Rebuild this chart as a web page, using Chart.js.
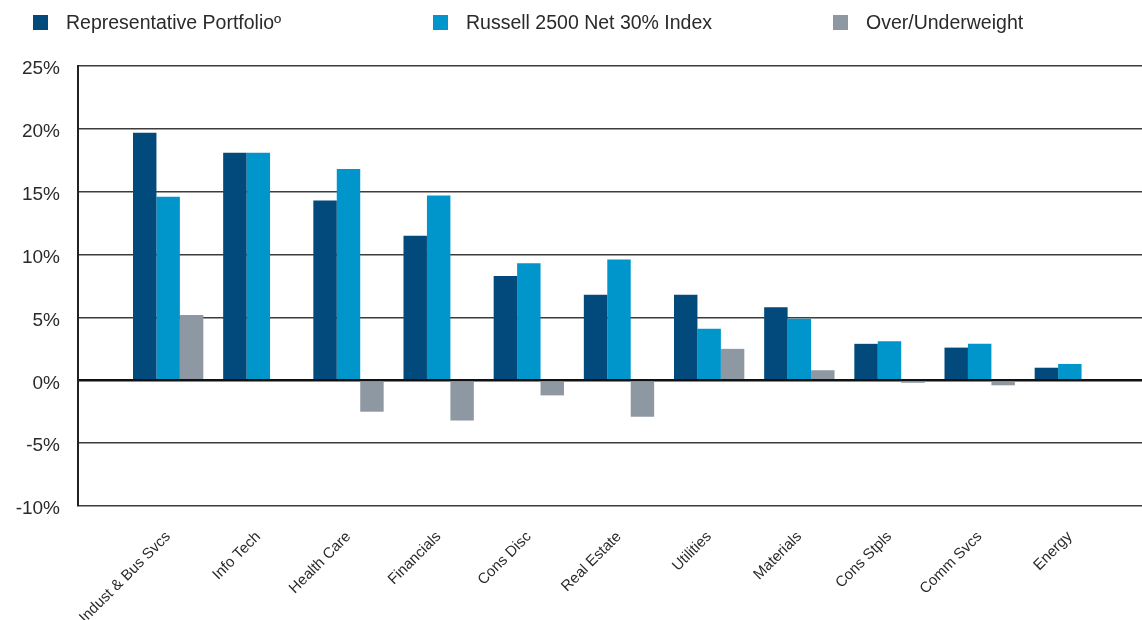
<!DOCTYPE html>
<html>
<head>
<meta charset="utf-8">
<script src="https://cdn.jsdelivr.net/npm/chart.js@4"></script>
<style>
  html, body { margin: 0; padding: 0; background: #fff; overflow: hidden; }
  body { width: 1142px; height: 620px; position: relative; font-family: "Liberation Sans", Arial, sans-serif; }
  #wrap { position: absolute; left: 0; top: 0; width: 1162px; height: 620px; }
  #legend { position: absolute; left: 33px; top: 11px; display: flex; z-index: 2; }
  .item { width: 400px; display: flex; align-items: center; font-size: 19.5px; color: #2a2a2a; }
  .sw { width: 15px; height: 15px; margin-right: 18px; }
</style>
</head>
<body>
<div id="legend"></div>
<div id="wrap"><canvas id="chart"></canvas></div>
<script>
// sector weights (%)
const categories = ['Indust & Bus Svcs', 'Info Tech', 'Health Care', 'Financials', 'Cons Disc',
  'Real Estate', 'Utilities', 'Materials', 'Cons Stpls', 'Comm Svcs', 'Energy'];
const portfolio = [19.7, 18.1, 14.3, 11.5, 8.3, 6.8, 6.8, 5.8, 2.9, 2.6, 1.0];
const benchmark = [14.6, 18.1, 16.8, 14.7, 9.3, 9.6, 4.1, 4.9, 3.1, 2.9, 1.3];
const overUnder = [5.2, 0.0, -2.5, -3.2, -1.2, -2.9, 2.5, 0.8, -0.2, -0.4, -0.1];
const seriesNames = ['Representative Portfolio\u00ba', 'Russell 2500 Net 30% Index', 'Over/Underweight'];
const colors = ['#014a7b', '#0096cb', '#8e98a3'];
const yTicks = [-10, -5, 0, 5, 10, 15, 20, 25];

// html legend, fixed spacing like the original
const legend = document.getElementById('legend');
seriesNames.forEach((name, i) => {
  const el = document.createElement('div');
  el.className = 'item';
  el.innerHTML = `<span class="sw" style="background:${colors[i]}"></span><span>${name}</span>`;
  legend.appendChild(el);
});

const toPoints = arr => arr.map((v, i) => ({ x: i + 1, y: v }));

new Chart(document.getElementById('chart'), {
  type: 'bar',
  data: {
    datasets: [portfolio, benchmark, overUnder].map((d, i) => ({
      label: seriesNames[i],
      data: toPoints(d),
      backgroundColor: colors[i],
      borderWidth: 0,
      categoryPercentage: 0.78,
      barPercentage: 1.0
    }))
  },
  options: {
    responsive: true,
    maintainAspectRatio: false,
    animation: false,
    layout: { padding: { top: 66, left: 0, right: 2, bottom: 0 } },
    plugins: { legend: { display: false }, tooltip: { enabled: false } },
    scales: {
      x: {
        type: 'linear',
        offset: false,
        min: 0,
        max: 12,
        afterBuildTicks: s => { s.ticks = categories.map((_, i) => ({ value: i + 1 })); },
        afterFit: s => { s.height = 114; },
        grid: { display: false, drawTicks: false },
        border: { display: false },
        ticks: {
          autoSkip: false,
          minRotation: 45,
          maxRotation: 45,
          padding: 22,
          labelOffset: 0,
          color: '#2a2a2a',
          font: { family: 'Liberation Sans', size: 15 },
          callback: v => categories[v - 1] || ''
        }
      },
      y: {
        min: -10,
        max: 25,
        afterBuildTicks: s => { s.ticks = yTicks.map(v => ({ value: v })); },
        afterFit: s => { s.width = 78; },
        grid: {
          drawTicks: false,
          color: ctx => ctx.tick && ctx.tick.value === 0 ? '#111' : '#3c3c3c',
          lineWidth: ctx => ctx.tick && ctx.tick.value === 0 ? 2.5 : 1.6
        },
        border: { display: true, color: '#222', width: 2 },
        ticks: {
          padding: 18,
          labelOffset: 3,
          color: '#2a2a2a',
          font: { family: 'Liberation Sans', size: 19 },
          callback: v => v + '%'
        }
      }
    }
  }
});
</script>
</body>
</html>
